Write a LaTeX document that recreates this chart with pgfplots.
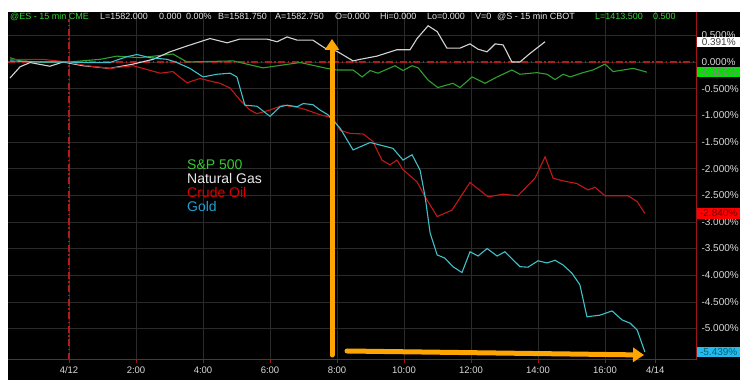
\documentclass[border=0pt]{standalone}
\usepackage{fontspec}
\setmainfont{Liberation Sans}
\usepackage{pgfplots}
\pgfplotsset{compat=1.18}
\usetikzlibrary{arrows.meta}
\definecolor{spgreen}{HTML}{2FA02F}
\definecolor{spleg}{HTML}{33CC33}
\definecolor{gasw}{HTML}{D4D4D4}
\definecolor{oilred}{HTML}{C21818}
\definecolor{goldc}{HTML}{40C0C8}
\definecolor{gridc}{HTML}{2A2A2A}
\definecolor{axred}{HTML}{A01414}
\definecolor{dashred}{HTML}{B01C1C}
\definecolor{arrowc}{HTML}{FFA500}
\definecolor{lbl}{HTML}{DADADA}
\definecolor{topw}{HTML}{E6E6E6}
\definecolor{topg}{HTML}{33D633}
\begin{document}
\begin{tikzpicture}
\fill[white] (0pt,0pt) rectangle (749pt,387pt);
\fill[black] (8pt,7pt) rectangle (740pt,375pt);
\begin{axis}[at={(8pt,27pt)}, anchor=south west, scale only axis,
  width=688pt, height=348pt,
  xmin=-1.821, xmax=18.716, ymin=-5.591, ymax=0.938,
  axis line style={draw=none},
  clip=false,
  xtick={0,2,4,6,8,10,12,14,16,17.5},
  xticklabels={4/12,2:00,4:00,6:00,8:00,10:00,12:00,14:00,16:00,4/14},
  ytick={0.5,0,-0.5,-1,-1.5,-2,-2.5,-3,-3.5,-4,-4.5,-5},
  yticklabels={0.500\%,0.000\%,-0.500\%,-1.000\%,-1.500\%,-2.000\%,-2.500\%,-3.000\%,-3.500\%,-4.000\%,-4.500\%,-5.000\%},
  xtick pos=bottom, ytick pos=right, yticklabel pos=right,
  tick align=outside, major tick length=3pt,
  xtick style={draw=axred, line width=0.8pt},
  ytick style={draw=none},
  grid=major, major grid style={draw=gridc, line width=0.6pt},
  xticklabel style={text=lbl, font=\fontsize{9.5}{10}\selectfont},
  yticklabel style={text=lbl, font=\fontsize{10}{11}\selectfont, anchor=west, xshift=-1pt},
]
% reference lines (zero line and date separator)
\draw[dashred, line width=1.1pt, dash pattern=on 7pt off 2.5pt on 1.5pt off 2.5pt] (axis cs:-1.821,0) -- (axis cs:18.716,0);
\draw[dashred, line width=1.1pt, dash pattern=on 7pt off 2.5pt on 1.5pt off 2.5pt] (axis cs:0,-5.591) -- (axis cs:0,0.80);
% series
\addplot[spgreen, line width=1.1pt] coordinates {(-1.76,0.08)(-1.46,0.02)(-0.87,0.0)(0,0.0)(0.93,0.05)(1.43,0.11)(2.12,0.08)(3.10,0.15)(3.52,0.0)(4.21,0.01)(4.90,0.02)(5.79,-0.11)(6.90,-0.01)(7.70,-0.12)(8.0,-0.15)(8.48,-0.15)(8.75,-0.28)(8.99,-0.16)(9.22,-0.21)(9.73,-0.07)(9.97,-0.16)(10.24,-0.07)(10.42,-0.11)(10.72,-0.34)(11.01,-0.48)(11.46,-0.40)(11.67,-0.48)(12.03,-0.28)(12.42,-0.40)(12.78,-0.28)(13.22,-0.15)(13.46,-0.23)(13.97,-0.20)(14.27,-0.23)(14.51,-0.33)(14.75,-0.23)(14.96,-0.28)(15.34,-0.20)(15.64,-0.15)(16.0,-0.04)(16.24,-0.18)(16.84,-0.12)(17.25,-0.19)};
\addplot[gasw, line width=1.1pt] coordinates {(-1.76,-0.30)(-1.46,-0.09)(-1.16,-0.01)(-0.57,-0.08)(-0.18,0.0)(0.42,-0.07)(1.22,-0.12)(1.91,-0.04)(2.51,0.05)(3.01,0.19)(3.52,0.30)(4.21,0.44)(4.72,0.36)(5.10,0.43)(5.91,0.43)(6.21,0.38)(6.51,0.47)(6.81,0.41)(7.28,0.41)(7.64,0.26)(8.0,0.20)(8.48,0.02)(8.69,0.05)(9.19,0.11)(9.79,0.23)(10.18,0.23)(10.39,0.44)(10.72,0.68)(10.99,0.57)(11.28,0.26)(11.67,0.26)(11.97,0.34)(12.21,0.24)(12.48,0.19)(12.72,0.34)(12.96,0.32)(13.22,0.0)(13.46,0.0)(13.76,0.16)(14.21,0.38)};
\addplot[oilred, line width=1.1pt] coordinates {(-1.76,0.05)(-0.78,0.05)(-0.06,0.0)(0.54,-0.07)(1.22,-0.12)(1.91,-0.07)(2.21,-0.12)(2.72,-0.21)(3.10,-0.18)(3.52,-0.39)(3.91,-0.31)(4.30,-0.37)(4.51,-0.40)(4.81,-0.49)(5.10,-0.71)(5.40,-0.90)(5.61,-0.97)(6.0,-0.90)(6.39,-0.81)(6.81,-0.85)(7.10,-0.90)(7.49,-0.99)(7.88,-1.05)(8.09,-1.28)(8.39,-1.34)(8.78,-1.35)(9.07,-1.49)(9.34,-1.84)(9.58,-1.93)(9.79,-1.84)(9.97,-2.02)(10.39,-2.25)(10.63,-2.53)(10.99,-2.90)(11.43,-2.78)(11.97,-2.26)(12.51,-2.53)(12.96,-2.48)(13.40,-2.51)(13.91,-2.18)(14.21,-1.78)(14.45,-2.18)(14.75,-2.23)(15.16,-2.28)(15.49,-2.40)(15.70,-2.35)(16.0,-2.51)(16.69,-2.51)(16.96,-2.62)(17.19,-2.84)};
\addplot[goldc, line width=1.1pt] coordinates {(-1.76,0.02)(-0.87,0.0)(-0.18,0.0)(0.54,-0.01)(1.22,-0.01)(1.73,0.10)(2.03,0.14)(2.42,0.08)(2.93,0.05)(3.22,-0.01)(3.61,-0.12)(4.0,-0.28)(4.42,-0.23)(4.81,-0.21)(5.01,-0.28)(5.25,-0.81)(5.61,-0.83)(6.0,-1.02)(6.30,-0.84)(6.51,-0.81)(6.81,-0.84)(6.99,-0.78)(7.28,-0.80)(7.49,-0.90)(7.73,-0.99)(8.09,-1.24)(8.48,-1.65)(8.99,-1.51)(9.67,-1.62)(9.97,-1.84)(10.24,-1.74)(10.48,-2.03)(10.63,-2.53)(10.78,-3.21)(10.99,-3.62)(11.22,-3.68)(11.46,-3.84)(11.73,-3.95)(11.97,-3.56)(12.21,-3.64)(12.48,-3.50)(12.78,-3.64)(13.01,-3.56)(13.46,-3.84)(13.70,-3.85)(14.0,-3.73)(14.27,-3.77)(14.51,-3.72)(14.75,-3.81)(15.01,-3.96)(15.25,-4.18)(15.46,-4.78)(15.85,-4.75)(16.21,-4.67)(16.51,-4.84)(16.75,-4.90)(16.96,-5.03)(17.19,-5.44)};
% value boxes
\tikzset{vbox/.style={anchor=west, minimum width=43pt, minimum height=10.5pt, inner sep=0pt, font=\fontsize{10}{11}\selectfont}}
\node[vbox, fill=white, text=black!75] at ({rel axis cs:1,0}|-{axis cs:0,0.391}) [xshift=1pt, yshift=-1pt] {0.391\%};
\node[vbox, fill=green!90!black, text=black!50] at ({rel axis cs:1,0}|-{axis cs:0,-0.189}) [xshift=1pt] {-0.189\%};
\node[vbox, fill=red, text=red!45!black] at ({rel axis cs:1,0}|-{axis cs:0,-2.84}) [xshift=1pt] {-2.840\%};
\node[vbox, fill=cyan!85!white, text=teal!80!black] at ({rel axis cs:1,0}|-{axis cs:0,-5.439}) [xshift=1pt] {-5.439\%};
\end{axis}
% axis border lines
\draw[axred, line width=1pt] (8pt,27pt) -- (696pt,27pt);
\draw[axred, line width=1pt] (696pt,27pt) -- (696pt,375pt);
% top info bar
\begin{scope}[every node/.style={anchor=base west, inner sep=0pt, font=\fontsize{9}{10}\selectfont}]
\node[text=topg] at (10pt,367.5pt) {@ES - 15 min CME};
\node[text=topw] at (100pt,367.5pt) {L=1582.000};
\node[text=topw] at (159pt,367.5pt) {0.000};
\node[text=topw] at (186pt,367.5pt) {0.00\%};
\node[text=topw] at (218pt,367.5pt) {B=1581.750};
\node[text=topw] at (275pt,367.5pt) {A=1582.750};
\node[text=topw] at (335pt,367.5pt) {O=0.000};
\node[text=topw] at (380pt,367.5pt) {Hi=0.000};
\node[text=topw] at (427pt,367.5pt) {Lo=0.000};
\node[text=topw] at (475pt,367.5pt) {V=0};
\node[text=topw] at (497pt,367.5pt) {@S - 15 min CBOT};
\node[text=topg] at (595pt,367.5pt) {L=1413.500};
\node[text=topg] at (653pt,367.5pt) {0.500};
\end{scope}
% legend text
\begin{scope}[every node/.style={anchor=base west, inner sep=0pt, font=\fontsize{14}{15}\selectfont}]
\node[text=spleg] at (187pt,217pt) {S\&P 500};
\node[text=white!92!black] at (187pt,203pt) {Natural Gas};
\node[text=red!85!black] at (187pt,189pt) {Crude Oil};
\node[text=cyan!70!teal] at (187pt,175pt) {Gold};
\end{scope}
% orange annotation arrows
\draw[arrowc, line width=5pt, line cap=round, -{Triangle[width=14pt,length=11pt]}] (332pt,32pt) -- (332pt,348pt);
\draw[arrowc, line width=5pt, line cap=round, -{Triangle[width=14pt,length=11pt]}] (347pt,36pt) -- (644pt,32pt);
\pgfresetboundingbox
\path[use as bounding box] (0pt,0pt) rectangle (749pt,387pt);
\end{tikzpicture}
\end{document}
